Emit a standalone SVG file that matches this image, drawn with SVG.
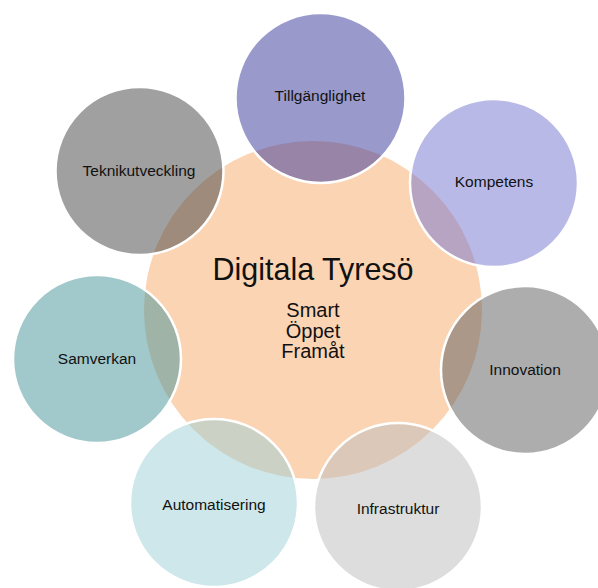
<svg xmlns="http://www.w3.org/2000/svg" width="598" height="588" viewBox="0 0 598 588">
  <style>
    .lbl { font-family: "Liberation Sans", Arial, sans-serif; font-size: 15.5px; fill: #111; text-anchor: middle; }
    .title { font-family: "Liberation Sans", Arial, sans-serif; font-size: 30.5px; fill: #111; text-anchor: middle; }
    .sub { font-family: "Liberation Sans", Arial, sans-serif; font-size: 20px; fill: #111; text-anchor: middle; }
    .outer { fill-opacity: 0.5; stroke: #fff; stroke-width: 2.5; }
  </style>
  <rect width="598" height="588" fill="#fff"/>
  <g id="center">
    <circle cx="313" cy="310" r="169" fill="#FBD4B4"/>
    <text class="title" x="313" y="280">Digitala Tyresö</text>
    <text class="sub" x="313" y="317">Smart</text>
    <text class="sub" x="313" y="338">Öppet</text>
    <text class="sub" x="313" y="358">Framåt</text>
  </g>
  <g id="connectors"></g>
  <g id="tillganglighet">
    <circle class="outer" cx="320.5" cy="98" r="85" fill="#333399"/>
    <text class="lbl" x="320" y="101">Tillgänglighet</text>
  </g>
  <g id="kompetens">
    <circle class="outer" cx="494" cy="183" r="84" fill="#7373D1"/>
    <text class="lbl" x="494" y="187">Kompetens</text>
  </g>
  <g id="innovation">
    <circle class="outer" cx="525" cy="370" r="84" fill="#5B5B5B"/>
    <text class="lbl" x="525" y="375">Innovation</text>
  </g>
  <g id="infrastruktur">
    <circle class="outer" cx="398" cy="507" r="84" fill="#BBBBBB"/>
    <text class="lbl" x="398" y="514">Infrastruktur</text>
  </g>
  <g id="automatisering">
    <circle class="outer" cx="214" cy="503" r="84" fill="#9BCFD5"/>
    <text class="lbl" x="214" y="510">Automatisering</text>
  </g>
  <g id="samverkan">
    <circle class="outer" cx="97" cy="359" r="84" fill="#439197"/>
    <text class="lbl" x="97" y="364">Samverkan</text>
  </g>
  <g id="teknikutveckling">
    <circle class="outer" cx="139.5" cy="171" r="84" fill="#414141"/>
    <text class="lbl" x="139" y="176">Teknikutveckling</text>
  </g>
</svg>
